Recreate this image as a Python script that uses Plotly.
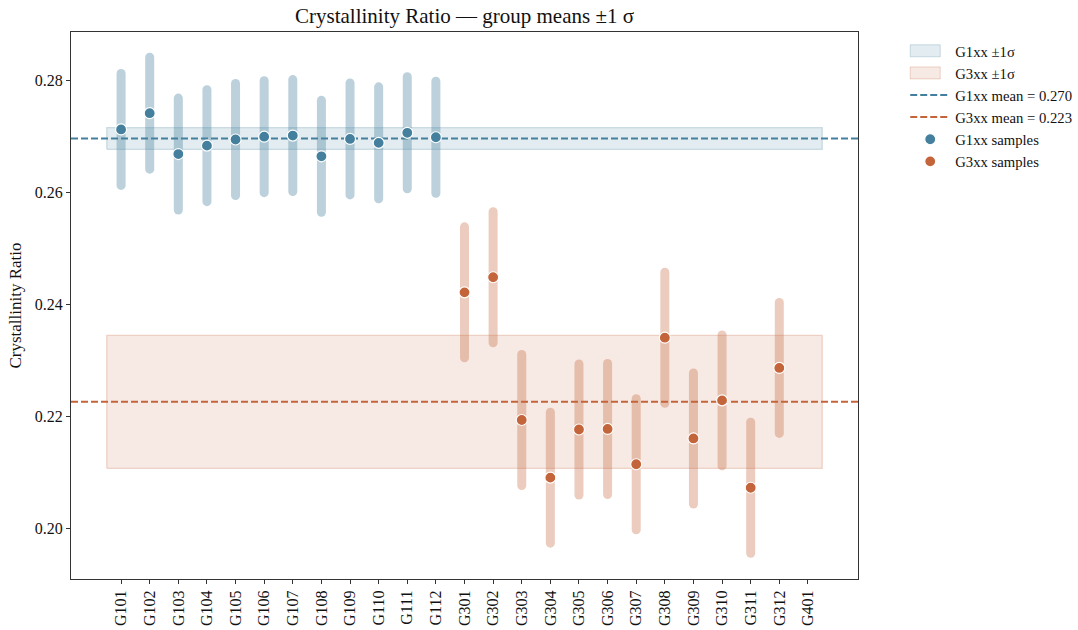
import numpy as np
import plotly.graph_objects as go

# ---------------- data ----------------
categories = ["G101", "G102", "G103", "G104", "G105", "G106", "G107", "G108",
              "G109", "G110", "G111", "G112",
              "G301", "G302", "G303", "G304", "G305", "G306", "G307", "G308",
              "G309", "G310", "G311", "G312", "G401"]

g1_names = ["G101", "G102", "G103", "G104", "G105", "G106", "G107", "G108",
            "G109", "G110", "G111", "G112"]
g1_means = [0.2712, 0.2741, 0.2668, 0.2683, 0.2694, 0.2699, 0.2701, 0.2664,
            0.2695, 0.2688, 0.2706, 0.2698]
g1_sds = [0.0100, 0.0100, 0.0100, 0.0100, 0.0100, 0.0100, 0.0100, 0.0100,
          0.0100, 0.0100, 0.0100, 0.0100]

g3_names = ["G301", "G302", "G303", "G304", "G305", "G306", "G307", "G308",
            "G309", "G310", "G311", "G312"]
g3_means = [0.2421, 0.2448, 0.2193, 0.2090, 0.2176, 0.2177, 0.2114, 0.2340,
            0.2160, 0.2228, 0.2072, 0.2286]
g3_sds = [0.0117, 0.0117, 0.0117, 0.0117, 0.0117, 0.0117, 0.0117, 0.0117,
          0.0117, 0.0117, 0.0117, 0.0117]

y_ticks = [0.20, 0.22, 0.24, 0.26, 0.28]
y_ticktext = ["0.20", "0.22", "0.24", "0.26", "0.28"]

# ---------------- styling ----------------
BLUE = "#44809d"
ORANGE = "#c3643a"
BLUE_BAR = "rgba(68,128,157,0.36)"
ORANGE_BAR = "rgba(195,100,58,0.33)"
BLUE_BAND = "rgba(68,128,157,0.15)"
BLUE_BAND_EDGE = "rgba(68,128,157,0.25)"
ORANGE_BAND = "rgba(195,100,58,0.14)"
ORANGE_BAND_EDGE = "rgba(195,100,58,0.25)"
FONT = "Liberation Serif"

pos = {c: i for i, c in enumerate(categories)}
n = len(categories)
x_range = [-1.75, n - 1 + 1.75]
band_x = [-0.5, n - 0.5]


def bar_xy(names, means, sds):
    xs, ys = [], []
    for nm, m, s in zip(names, means, sds):
        xs += [pos[nm], pos[nm], None]
        ys += [m - s, m + s, None]
    return xs, ys


g1_mu = float(np.mean(g1_means))
g1_sd = float(np.std(g1_means))
g3_mu = float(np.mean(g3_means))
g3_sd = float(np.std(g3_means))

fig = go.Figure()

# bands
for mu, sd, fillc, edgec, label in [
    (g1_mu, g1_sd, BLUE_BAND, BLUE_BAND_EDGE, "G1xx ±1σ"),
    (g3_mu, g3_sd, ORANGE_BAND, ORANGE_BAND_EDGE, "G3xx ±1σ"),
]:
    fig.add_trace(go.Scatter(
        x=[band_x[0], band_x[1], band_x[1], band_x[0], band_x[0]],
        y=[mu - sd, mu - sd, mu + sd, mu + sd, mu - sd],
        mode="lines", fill="toself", fillcolor=fillc,
        line=dict(color=edgec, width=1.2),
        name=label, hoverinfo="skip",
    ))

# mean lines
for mu, col, label in [
    (g1_mu, BLUE, f"G1xx mean = {g1_mu:.3f}"),
    (g3_mu, ORANGE, f"G3xx mean = {g3_mu:.3f}"),
]:
    fig.add_trace(go.Scatter(
        x=x_range, y=[mu, mu], mode="lines",
        line=dict(color=col, width=2, dash="7px,3px"),
        name=label, hoverinfo="skip",
    ))

# sd bars
for names, means, sds, col in [
    (g1_names, g1_means, g1_sds, BLUE_BAR),
    (g3_names, g3_means, g3_sds, ORANGE_BAR),
]:
    bx, by = bar_xy(names, means, sds)
    fig.add_trace(go.Scatter(
        x=bx, y=by, mode="lines", line=dict(color=col, width=9),
        showlegend=False, hoverinfo="skip",
    ))

# sample dots
for names, means, col, label in [
    (g1_names, g1_means, BLUE, "G1xx samples"),
    (g3_names, g3_means, ORANGE, "G3xx samples"),
]:
    fig.add_trace(go.Scatter(
        x=[pos[nm] for nm in names], y=means, mode="markers",
        marker=dict(color=col, size=11, line=dict(color="white", width=1.2)),
        name=label,
    ))

fig.update_layout(
    width=1078, height=630,
    margin=dict(l=71, r=220, t=32, b=51, autoexpand=False),
    paper_bgcolor="white", plot_bgcolor="white",
    font=dict(family=FONT, size=16, color="#111111"),
    title=dict(text="Crystallinity Ratio — group means ±1 σ",
               x=0.5, xref="paper", xanchor="center",
               y=1 - 16 / 630, yref="container", yanchor="middle",
               font=dict(size=21, family=FONT, color="#111111")),
    showlegend=True,
    legend=dict(x=1.06, y=0.995, xanchor="left", yanchor="top",
                bgcolor="rgba(0,0,0,0)", itemwidth=40,
                font=dict(size=14.7, family=FONT, color="#111111"),
                traceorder="normal"),
)

fig.update_xaxes(
    range=x_range, tickmode="array", tickvals=list(range(n)), ticktext=categories,
    tickangle=-90, ticks="outside", ticklen=4, tickwidth=1, tickcolor="#333",
    showline=True, linecolor="#333", linewidth=1.2, mirror=True,
    showgrid=False, zeroline=False, tickfont=dict(size=16), automargin=False,
)
fig.update_yaxes(
    range=[0.1909, 0.2886], tickmode="array", tickvals=y_ticks, ticktext=y_ticktext,
    ticks="outside", ticklen=4, tickwidth=1, tickcolor="#333",
    showline=True, linecolor="#333", linewidth=1.2, mirror=True,
    showgrid=False, zeroline=False, tickfont=dict(size=16), automargin=False,
    title=dict(text="Crystallinity Ratio", font=dict(size=17), standoff=8),
)

post = """
document.querySelectorAll('.scatterlayer path.js-line').forEach(function(p){
  if (p.style.strokeWidth === '9px') { p.style.strokeLinecap = 'round'; }
});
document.querySelectorAll('.legend .traces').forEach(function(t){
  var f = t.querySelector('.legendfill path');
  if (!f) return;
  var l = t.querySelector('.legendlines path');
  f.setAttribute('d', 'M5,-6h30v12h-30z');
  if (l) {
    f.style.stroke = l.style.stroke;
    f.style.strokeOpacity = l.style.strokeOpacity;
    f.style.strokeWidth = '1px';
    l.style.display = 'none';
  }
});
"""

fig.write_html("out.html", post_script=post)
